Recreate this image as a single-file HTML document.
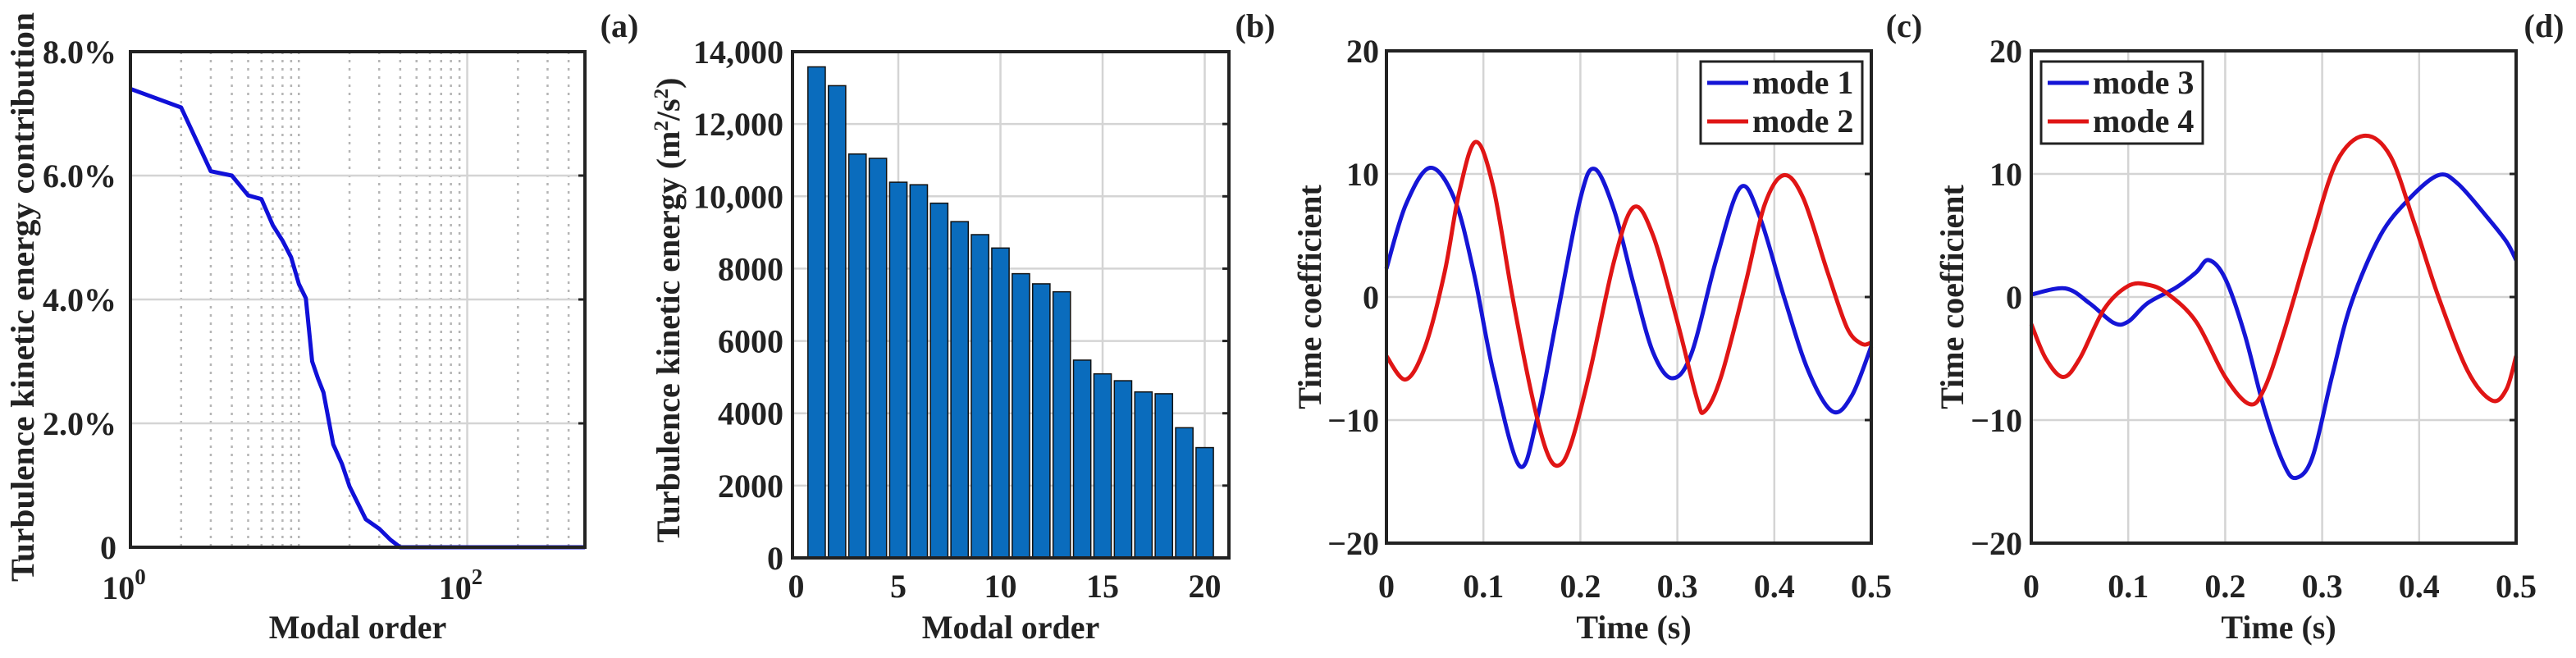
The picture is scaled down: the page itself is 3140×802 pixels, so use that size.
<!DOCTYPE html>
<html><head><meta charset="utf-8"><style>
html,body{margin:0;padding:0;background:#fff;}
svg{display:block;font-family:"Liberation Serif",serif;font-weight:bold;}
</style></head><body>
<svg id="fig" width="3140" height="802" viewBox="0 0 3140 802" xmlns="http://www.w3.org/2000/svg"></svg>
<script>
// Panel (a) data
const aModes = [1,2,3,4,5,6,7,8,9,10,11,12,13,14,16,18,20,25,30,35,40,50,100,200,500];
const aValues = [7.4,7.1,6.07,6.0,5.68,5.62,5.2,4.95,4.68,4.25,4.02,3.0,2.72,2.5,1.66,1.35,0.98,0.45,0.3,0.12,0.0,0.0,0.0,0.0,0.0];
const aYTicks = [0,2,4,6,8];
const aYTickLabels = ["0","2.0%","4.0%","6.0%","8.0%"];
// Panel (b) data
const bModes = [1,2,3,4,5,6,7,8,9,10,11,12,13,14,15,16,17,18,19,20];
const bValues = [13580,13060,11170,11050,10390,10320,9810,9300,8940,8570,7860,7580,7360,5470,5090,4900,4590,4540,3600,3050];
const bYTicks = [0,2000,4000,6000,8000,10000,12000,14000];
const bYTickLabels = ["0","2000","4000","6000","8000","10,000","12,000","14,000"];
const bXTicks = [0,5,10,15,20];
// Panel (c) data
const cT1 = [0,0.02,0.045,0.07,0.09,0.11,0.137,0.155,0.175,0.2,0.215,0.235,0.255,0.275,0.295,0.315,0.34,0.365,0.385,0.41,0.435,0.46,0.48,0.5];
const cMode1 = [2.3,7.5,10.5,8,2,-6,-13.7,-10,-2,8,10.4,7,1,-4.5,-6.6,-4.5,3,8.9,6.5,0,-6,-9.3,-8,-4];
const cT2 = [0,0.02,0.04,0.06,0.075,0.092,0.11,0.13,0.15,0.165,0.177,0.19,0.21,0.235,0.255,0.275,0.3,0.32,0.328,0.345,0.37,0.39,0.41,0.43,0.455,0.475,0.49,0.5];
const cMode2 = [-4.8,-6.7,-4,2,8.5,12.6,9,0,-8,-12.5,-13.7,-12,-6,3,7.3,5,-2,-8.2,-9.3,-6.5,1,7.5,9.9,8,2,-2.5,-3.8,-3.7];
// Panel (d) data
const dT3 = [0,0.035,0.06,0.085,0.1,0.12,0.15,0.17,0.183,0.2,0.22,0.24,0.26,0.273,0.29,0.31,0.33,0.36,0.39,0.42,0.44,0.47,0.49,0.5];
const dMode3 = [0.2,0.7,-0.5,-2.1,-2,-0.5,0.8,2,3,1.5,-3,-9,-13.5,-14.7,-13,-6.5,-0.5,5,8,9.9,9.2,6.5,4.5,3];
const dT4 = [0,0.015,0.033,0.05,0.075,0.1,0.12,0.14,0.17,0.2,0.225,0.24,0.26,0.29,0.315,0.343,0.37,0.395,0.42,0.45,0.475,0.49,0.5];
const dMode4 = [-2.2,-5,-6.5,-5,-1,0.9,1,0.3,-2,-6.5,-8.7,-7.5,-3,5,11,13.1,11.5,6,0,-6,-8.4,-7.5,-4.8];
const tTicks = [0,0.1,0.2,0.3,0.4,0.5];
const tTickLabels = ["0","0.1","0.2","0.3","0.4","0.5"];
const cvTicks = [-20,-10,0,10,20];
const cvTickLabels = ["\u221220","\u221210","0","10","20"];

const NS="http://www.w3.org/2000/svg";
const fig=document.getElementById('fig');
function mk(tag,attrs,parent){const e=document.createElementNS(NS,tag);for(const k in attrs)e.setAttribute(k,attrs[k]);(parent||fig).appendChild(e);return e;}
function smooth(pts){let d="M"+pts[0][0]+","+pts[0][1];for(let i=0;i<pts.length-1;i++){const p0=pts[Math.max(0,i-1)],p1=pts[i],p2=pts[i+1],p3=pts[Math.min(pts.length-1,i+2)];const c1=[p1[0]+(p2[0]-p0[0])/6,p1[1]+(p2[1]-p0[1])/6],c2=[p2[0]-(p3[0]-p1[0])/6,p2[1]-(p3[1]-p1[1])/6];d+=" C"+c1[0].toFixed(1)+","+c1[1].toFixed(1)+" "+c2[0].toFixed(1)+","+c2[1].toFixed(1)+" "+p2[0].toFixed(1)+","+p2[1].toFixed(1);}return d;}
const FS=40;

function frame(g,L,R,T,B){
  const r=mk('rect',{x:L,y:T,width:R-L,height:B-T,fill:'none',stroke:'#222',"stroke-width":4},g);
  
  
}
function txt(g,x,y,s,anchor,extra){const t=mk('text',Object.assign({x:x,y:y,"font-size":FS,"text-anchor":anchor||'middle',fill:'#222'},extra||{}),g);t.textContent=s;return t;}

// ---------- Panel A ----------
(function(){
  const g=mk('g',{});
  
  
  const L=159,R=713,T=63,B=667;
  const xs=v=>L+(Math.log10(v))*(R-L)/Math.log10(500);
  const ys=v=>B-(v/8)*(B-T);
  for(let dec=1;dec<=100;dec*=10){for(let k=1;k<=9;k++){const v=k*dec;if(v<=1||v>=500)continue;
    const ln=mk('line',{x1:xs(v),x2:xs(v),y1:T,y2:B,stroke:v===100?'#d4d4d4':'#b5b5b5',"stroke-width":2.5,"stroke-dasharray":v===100?'none':'3,7'},g);
    
    }}
  aYTicks.forEach((v,i)=>{
    if(v>0&&v<8){const ln=mk('line',{x1:L,x2:R,y1:ys(v),y2:ys(v),stroke:'#d4d4d4',"stroke-width":2.5},g);
    
    }
    const tk=mk('line',{x1:R,x2:R-8,y1:ys(v),y2:ys(v),stroke:'#222',"stroke-width":3},g);
    
    
    const t=txt(g,142,ys(v)+14,aYTickLabels[i],'end');
    
    
  });
  const pts=aModes.map((m,i)=>[xs(m),ys(aValues[i])]);
  const p=mk('polyline',{points:pts.map(q=>q[0].toFixed(1)+","+q[1].toFixed(1)).join(" "),fill:'none',stroke:'#1010d8',"stroke-width":5,"stroke-linejoin":'round'},g);
  
  
  frame(g,L,R,T,B);
  [[1,"0"],[100,"2"]].forEach(([v,e])=>{
    const t=mk('text',{x:xs(v)-8,y:730,"font-size":FS,"text-anchor":'middle',fill:'#222'},g);
    t.textContent="10";
    const s=mk('tspan',{dy:-18,"font-size":27},t);s.textContent=e;
    
    
  });
  const xl=txt(g,436,778,"Modal order");
  
  
  const yl=txt(g,0,0,"Turbulence kinetic energy contribution",'middle',{transform:'translate(41,362) rotate(-90)',textLength:694,lengthAdjust:'spacingAndGlyphs'});
  
  
  const pl=txt(g,755,45,"(a)");
  
  
})();

// ---------- Panel B ----------
(function(){
  const g=mk('g',{});
  
  
  const L=966,R=1498,T=63,B=680;
  const x0=970.5,ux=24.9;
  const xs=v=>x0+v*ux;
  const ys=v=>B-(v/14000)*(B-T);
  bXTicks.forEach(v=>{
    if(v>0){const ln=mk('line',{x1:xs(v),x2:xs(v),y1:T,y2:B,stroke:'#d4d4d4',"stroke-width":2.5},g);
    
    }
    const t=txt(g,xs(v),728,String(v));
    
    
  });
  bYTicks.forEach((v,i)=>{
    if(v>0&&v<14000){const ln=mk('line',{x1:L,x2:R,y1:ys(v),y2:ys(v),stroke:'#d4d4d4',"stroke-width":2.5},g);
    
    }
    const tk=mk('line',{x1:R,x2:R-8,y1:ys(v),y2:ys(v),stroke:'#222',"stroke-width":3},g);
    
    
    const t=txt(g,955,ys(v)+14,bYTickLabels[i],'end');
    
    
  });
  bModes.forEach((m,i)=>{
    const bw=0.85*ux;
    const r=mk('rect',{x:xs(m)-bw/2,y:ys(bValues[i]),width:bw,height:B-ys(bValues[i]),fill:'#0a6cbd',stroke:'#111',"stroke-width":1.5},g);
    
    
  });
  frame(g,L,R,T,B);
  const xl=txt(g,1232,778,"Modal order");
  
  
  const yl=mk('text',{transform:'translate(828,378) rotate(-90)',"font-size":FS,"text-anchor":'middle',fill:'#222'},g);
  yl.innerHTML='Turbulence kinetic energy (m<tspan dy="-14" font-size="25">2</tspan><tspan dy="14">/s</tspan><tspan dy="-14" font-size="25">2</tspan><tspan dy="14">)</tspan>';
  
  
  const pl=txt(g,1530,45,"(b)");
  
  
})();

// ---------- Time panels ----------
function timePanel(name,L,R,label,labelX,ylabX,tickR,s1,s2,names,legX){
  const T=62,B=662;
  const g=mk('g',{});
  
  
  const xs=v=>L+(v/0.5)*(R-L);
  const ys=v=>B-((v+20)/40)*(B-T);
  tTicks.forEach((v,i)=>{
    if(v>0&&v<0.5){const ln=mk('line',{x1:xs(v),x2:xs(v),y1:T,y2:B,stroke:'#d4d4d4',"stroke-width":2.5},g);
    
    }
    const t=txt(g,xs(v),728,tTickLabels[i]);
    
    
  });
  cvTicks.forEach((v,i)=>{
    if(v>-20&&v<20){const ln=mk('line',{x1:L,x2:R,y1:ys(v),y2:ys(v),stroke:'#d4d4d4',"stroke-width":2.5},g);
    
    }
    const tk=mk('line',{x1:R,x2:R-8,y1:ys(v),y2:ys(v),stroke:'#222',"stroke-width":3},g);
    
    
    const t=txt(g,tickR,ys(v)+14,cvTickLabels[i],'end');
    
    
  });
  const cols=['#1515d6','#e01515'];
  [s1,s2].forEach((s,k)=>{
    const pts=s[0].map((t,i)=>[xs(t),ys(s[1][i])]);
    const p=mk('path',{d:smooth(pts),fill:'none',stroke:cols[k],"stroke-width":5},g);
    
    
  });
  frame(g,L,R,T,B);
  const lg=mk('g',{},g);
  
  
  mk('rect',{x:legX,y:75,width:197,height:100,fill:'#fff',stroke:'#222',"stroke-width":3},lg);
  names.forEach((n,k)=>{
    const yy=101+k*47;
    const ln=mk('line',{x1:legX+8,x2:legX+58,y1:yy,y2:yy,stroke:cols[k],"stroke-width":5},lg);
    
    
    const t=txt(lg,legX+63,yy+13,n,'start');
    
    
  });
  const xl=txt(g,(L+R)/2+6,778,"Time (s)");
  
  
  const yl=txt(g,0,0,"Time coefficient",'middle',{transform:'translate('+ylabX+',362) rotate(-90)'});
  
  
  const pl=txt(g,labelX,45,label);
  
  
}
timePanel('panel-c',1690,2281,'(c)',2321,1610,1681,[cT1,cMode1],[cT2,cMode2],['mode 1','mode 2'],2073);
timePanel('panel-d',2476,3067,'(d)',3101,2393,2465,[dT3,dMode3],[dT4,dMode4],['mode 3','mode 4'],2488);
</script>
</body></html>
